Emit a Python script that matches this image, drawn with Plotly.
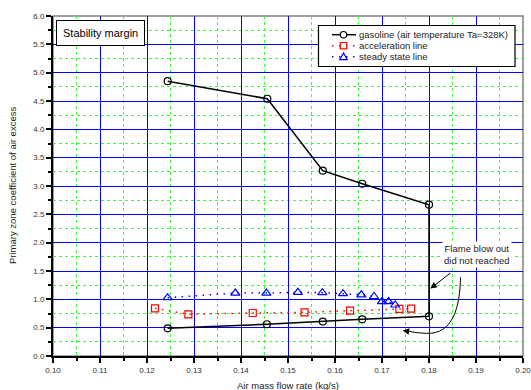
import plotly.graph_objects as go

# Gasoline stability loop: upper branch, blow-out limit at 0.18 kg/s, lower branch back
gas_x = [0.1244, 0.1456, 0.1574, 0.1658, 0.1800, 0.1800, 0.1658, 0.1574, 0.1455, 0.1244]
gas_y = [4.85, 4.54, 3.27, 3.04, 2.67, 0.70, 0.648, 0.607, 0.56, 0.489]

# Acceleration line
acc_x = [0.1217, 0.1288, 0.1425, 0.1535, 0.1632, 0.1737, 0.1762]
acc_y = [0.842, 0.736, 0.759, 0.771, 0.800, 0.830, 0.836]

# Steady state line
ss_x = [0.1244, 0.1388, 0.1454, 0.1521, 0.1573, 0.1617, 0.1656, 0.1683, 0.1700, 0.1714, 0.1728]
ss_y = [1.03, 1.11, 1.11, 1.124, 1.118, 1.10, 1.08, 1.05, 0.96, 0.96, 0.90]

x_ticks = [0.10, 0.11, 0.12, 0.13, 0.14, 0.15, 0.16, 0.17, 0.18, 0.19, 0.20]
y_ticks = [0.0, 0.5, 1.0, 1.5, 2.0, 2.5, 3.0, 3.5, 4.0, 4.5, 5.0, 5.5, 6.0]

series_names = ["gasoline (air temperature Ta=328K)", "acceleration line", "steady state line"]
series_colors = ["black", "red", "blue"]

FONT = "Liberation Sans, Arial, sans-serif"
SPARSE_DOT = "1.5px,5.5px"

W, H = 531, 390
ML, MR, MT, MB = 53, 8, 16, 34
PW, PH = W - ML - MR, H - MT - MB


def px(x):
    """horizontal pixel -> paper fraction"""
    return (x - ML) / PW


def py(y):
    """vertical pixel (from top) -> paper fraction"""
    return (H - MB - y) / PH


fig = go.Figure()

fig.add_trace(go.Scatter(
    x=gas_x, y=gas_y, mode="lines+markers", name=series_names[0],
    line=dict(color=series_colors[0], width=1.5),
    marker=dict(symbol="circle-open", size=7, color=series_colors[0], line=dict(width=1.2)),
))
fig.add_trace(go.Scatter(
    x=acc_x, y=acc_y, mode="lines+markers", name=series_names[1],
    line=dict(color=series_colors[1], width=1.5, dash=SPARSE_DOT),
    marker=dict(symbol="square-open", size=7, color=series_colors[1], line=dict(width=1.2)),
))
fig.add_trace(go.Scatter(
    x=ss_x, y=ss_y, mode="lines+markers", name=series_names[2],
    line=dict(color=series_colors[2], width=1.5, dash=SPARSE_DOT),
    marker=dict(symbol="triangle-up-open", size=8, color=series_colors[2], line=dict(width=1.2)),
))

axis_common = dict(
    showline=True, linecolor="black", linewidth=2,
    ticks="outside", ticklen=5, tickwidth=1.5, tickcolor="black",
    showgrid=True, gridcolor="#0000ff", gridwidth=1,
    zeroline=False, automargin=False, ticklabeloverflow="allow",
    tickfont=dict(family=FONT, size=8, color="#333333"),
)

fig.update_xaxes(
    range=[0.10, 0.20], tickvals=x_ticks, ticktext=[f"{v:.2f}" for v in x_ticks],
    minor=dict(dtick=0.005, showgrid=True, gridcolor="#33ff33", griddash="dot",
               gridwidth=1, ticks="outside", ticklen=3, tickcolor="black"),
    **axis_common,
)
fig.update_yaxes(
    range=[0, 6], tickvals=y_ticks, ticktext=[f"{v:.1f}" for v in y_ticks],
    minor=dict(dtick=0.25, showgrid=True, gridcolor="#33ff33", griddash="dot",
               gridwidth=1, ticks="outside", ticklen=3, tickcolor="black"),
    **axis_common,
)

shapes = [
    # gray frame on top/right
    dict(type="rect", xref="paper", yref="paper", x0=0, y0=0, x1=1, y1=1,
         line=dict(color="#808080", width=1.5), layer="below"),
    # curved return arrow
    dict(type="path", xref="x", yref="y",
         path="M 0.1867,1.39 C 0.1866,0.85 0.1850,0.38 0.1795,0.40 C 0.1775,0.405 0.1760,0.43 0.1752,0.445",
         line=dict(color="black", width=1)),
]

annotations = [
    dict(text="Stability margin", xref="paper", yref="paper", x=px(56), y=py(20),
         xanchor="left", yanchor="top", showarrow=False,
         font=dict(family=FONT, size=11, color="black"),
         bordercolor="black", borderwidth=1, borderpad=6, bgcolor="white"),
    dict(text="Flame blow out<br>did not reached", x=0.1903, y=1.80, xref="x", yref="y",
         showarrow=False, font=dict(family=FONT, size=9.5, color="#222222"),
         bgcolor="white"),
    dict(x=0.1803, y=1.19, ax=0.1848, ay=1.48, xref="x", yref="y", axref="x", ayref="y",
         text="", showarrow=True, arrowhead=2, arrowsize=1.3, arrowwidth=1, arrowcolor="black"),
    dict(x=0.1744, y=0.452, ax=0.1760, ay=0.43, xref="x", yref="y", axref="x", ayref="y",
         text="", showarrow=True, arrowhead=2, arrowsize=1.3, arrowwidth=1, arrowcolor="black"),
    # axis titles
    dict(text="Air mass flow rate (kg/s)", xref="paper", yref="paper", x=0.5, y=py(385),
         xanchor="center", yanchor="middle", showarrow=False,
         font=dict(family=FONT, size=9.5, color="#222222")),
    dict(text="Primary zone coefficient of air excess", xref="paper", yref="paper",
         x=px(12), y=0.5, textangle=-90, xanchor="center", yanchor="middle", showarrow=False,
         font=dict(family=FONT, size=9.5, color="#222222")),
]

# Compact legend box drawn from shapes and text
shapes.append(dict(type="rect", xref="paper", yref="paper",
                   x0=px(318.5), x1=px(515), y0=py(25.5), y1=py(66.5),
                   line=dict(color="black", width=1.2), fillcolor="white", layer="above"))
row_y = [34.7, 45.7, 56.7]
dashes = ["solid", SPARSE_DOT, SPARSE_DOT]
for i, (name, col, dash, ry) in enumerate(zip(series_names, series_colors, dashes, row_y)):
    shapes.append(dict(type="line", xref="paper", yref="paper",
                       x0=px(332), x1=px(356), y0=py(ry), y1=py(ry),
                       line=dict(color=col, width=1.5, dash=dash), layer="above"))
    cx, cy, r = 343.5, ry, 3.2
    if i == 0:
        shapes.append(dict(type="circle", xref="paper", yref="paper",
                           x0=px(cx - r), x1=px(cx + r), y0=py(cy + r), y1=py(cy - r),
                           line=dict(color=col, width=1.2), fillcolor="white", layer="above"))
    elif i == 1:
        shapes.append(dict(type="rect", xref="paper", yref="paper",
                           x0=px(cx - r), x1=px(cx + r), y0=py(cy + r), y1=py(cy - r),
                           line=dict(color=col, width=1.2), fillcolor="white", layer="above"))
    else:
        path = (f"M {px(cx - 3.8)},{py(cy + 3)} L {px(cx + 3.8)},{py(cy + 3)} "
                f"L {px(cx)},{py(cy - 3.8)} Z")
        shapes.append(dict(type="path", xref="paper", yref="paper", path=path,
                           line=dict(color=col, width=1.2), fillcolor="white", layer="above"))
    annotations.append(dict(text=name, xref="paper", yref="paper", x=px(357), y=py(ry),
                            xanchor="left", yanchor="middle", showarrow=False,
                            font=dict(family=FONT, size=9.5, color="#222222")))

fig.update_layout(
    width=W, height=H,
    margin=dict(l=ML, r=MR, t=MT, b=MB),
    paper_bgcolor="white", plot_bgcolor="white",
    font=dict(family=FONT),
    showlegend=False,
    shapes=shapes, annotations=annotations,
)

fig.write_html("out.html")
